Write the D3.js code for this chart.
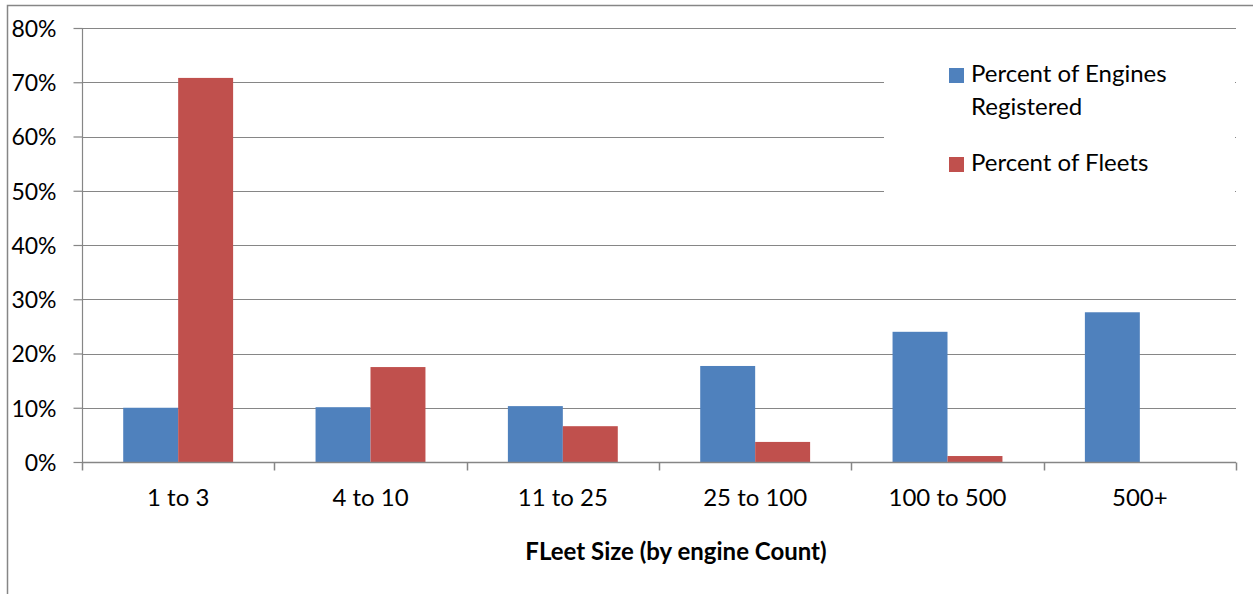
<!DOCTYPE html>
<html>
<head>
<meta charset="utf-8">
<script src="https://cdn.jsdelivr.net/npm/d3@7/dist/d3.min.js"></script>
<style>
  html, body { margin: 0; padding: 0; background: #fff; }
  svg { display: block; }
  text { font-family: Lato, "Open Sans", sans-serif; fill: #000; }
</style>
</head>
<body>
<svg id="chart" width="1253" height="594"></svg>
<script>
const categories = ["1 to 3", "4 to 10", "11 to 25", "25 to 100", "100 to 500", "500+"];
const seriesNames = ["Percent of Engines Registered", "Percent of Fleets"];
const enginesRegistered = [0.100, 0.101, 0.103, 0.177, 0.240, 0.276];
const fleets = [0.708, 0.175, 0.066, 0.037, 0.011, 0.0];
const yTicks = [0, 0.1, 0.2, 0.3, 0.4, 0.5, 0.6, 0.7, 0.8];
const colors = ["#4F81BD", "#C0504D"];
const xTitle = "FLeet Size (by engine Count)";

const svg = d3.select("#chart");
const m = { left: 82, right: 1236, top: 28, bottom: 462 };

// outer chart border
svg.append("rect")
  .attr("x", 7.5).attr("y", 5.5).attr("width", 1270).attr("height", 620)
  .attr("fill", "#fff").attr("stroke", "#868686").attr("stroke-width", 1.5);

const y = d3.scaleLinear().domain([0, 0.8]).range([m.bottom, m.top]);
const x0 = d3.scaleBand().domain(categories).range([m.left, m.right]).paddingInner(0).paddingOuter(0);
const groupW = x0.bandwidth() / 1.75;
const x1 = d3.scaleBand().domain(seriesNames).range([0, groupW]).padding(0);

// gridlines
svg.append("g").selectAll("line").data(yTicks.slice(1)).join("line")
  .attr("x1", m.left).attr("x2", m.right)
  .attr("y1", d => Math.round(y(d)) + 0.5).attr("y2", d => Math.round(y(d)) + 0.5)
  .attr("stroke", "#868686").attr("stroke-width", 1.2);

// bars
const data = categories.map((c, i) => ({ cat: c, vals: [enginesRegistered[i], fleets[i]] }));
const groups = svg.append("g").selectAll("g").data(data).join("g")
  .attr("transform", d => `translate(${x0(d.cat) + (x0.bandwidth() - groupW) / 2},0)`);
groups.selectAll("rect").data(d => d.vals.map((v, j) => ({ v, j }))).join("rect")
  .attr("x", d => x1(seriesNames[d.j]))
  .attr("width", x1.bandwidth())
  .attr("y", d => y(d.v))
  .attr("height", d => y(0) - y(d.v))
  .attr("fill", d => colors[d.j]);

// y axis
const yAxis = d3.axisLeft(y).tickValues(yTicks).tickFormat(d3.format(".0%")).tickSize(9).tickPadding(16);
const gy = svg.append("g").attr("transform", `translate(${m.left + 0.5},0)`).call(yAxis);
gy.selectAll("path, line").attr("stroke", "#868686").attr("stroke-width", 1.2);
gy.selectAll("text").attr("font-size", 23).attr("x", -26).attr("dy", "0.36em")
  .attr("font-family", "Lato, sans-serif").attr("fill", "#000");
gy.select(".domain").attr("d", `M0,${m.top}V${m.bottom}`);

// x axis
const xAxis = d3.axisBottom(x0).tickSize(0).tickPadding(30);
const gx = svg.append("g").attr("transform", `translate(0,${m.bottom + 0.5})`).call(xAxis);
gx.select(".domain").attr("stroke", "#868686").attr("stroke-width", 1.5).attr("d", `M${m.left},0H${m.right}`);
gx.selectAll(".tick text").attr("font-size", 24).attr("y", 43).attr("dy", 0)
  .attr("font-family", "Lato, sans-serif").attr("fill", "#000");
// category boundary ticks
const bounds = categories.map(c => x0(c)).concat([m.right]);
gx.append("g").selectAll("line").data(bounds).join("line")
  .attr("x1", d => Math.round(d) + 0.5).attr("x2", d => Math.round(d) + 0.5)
  .attr("y1", 0).attr("y2", 8).attr("stroke", "#868686").attr("stroke-width", 1.5);

// x title
svg.append("text").attr("x", 676).attr("y", 560).attr("text-anchor", "middle")
  .attr("font-size", 24).attr("font-weight", "bold").text(xTitle);

// legend
const lg = svg.append("g");
lg.append("rect").attr("x", 884).attr("y", 55).attr("width", 351).attr("height", 140).attr("fill", "#fff");
const legendItems = [
  { lines: ["Percent of Engines", "Registered"], color: colors[0], top: 68 },
  { lines: ["Percent of Fleets"], color: colors[1], top: 157 }
];
legendItems.forEach(it => {
  lg.append("rect").attr("x", 949).attr("y", it.top).attr("width", 15).attr("height", 15).attr("fill", it.color);
  it.lines.forEach((t, k) => {
    lg.append("text").attr("x", 971).attr("y", it.top + 14 + k * 33)
      .attr("font-size", 24).text(t);
  });
});
</script>
</body>
</html>
